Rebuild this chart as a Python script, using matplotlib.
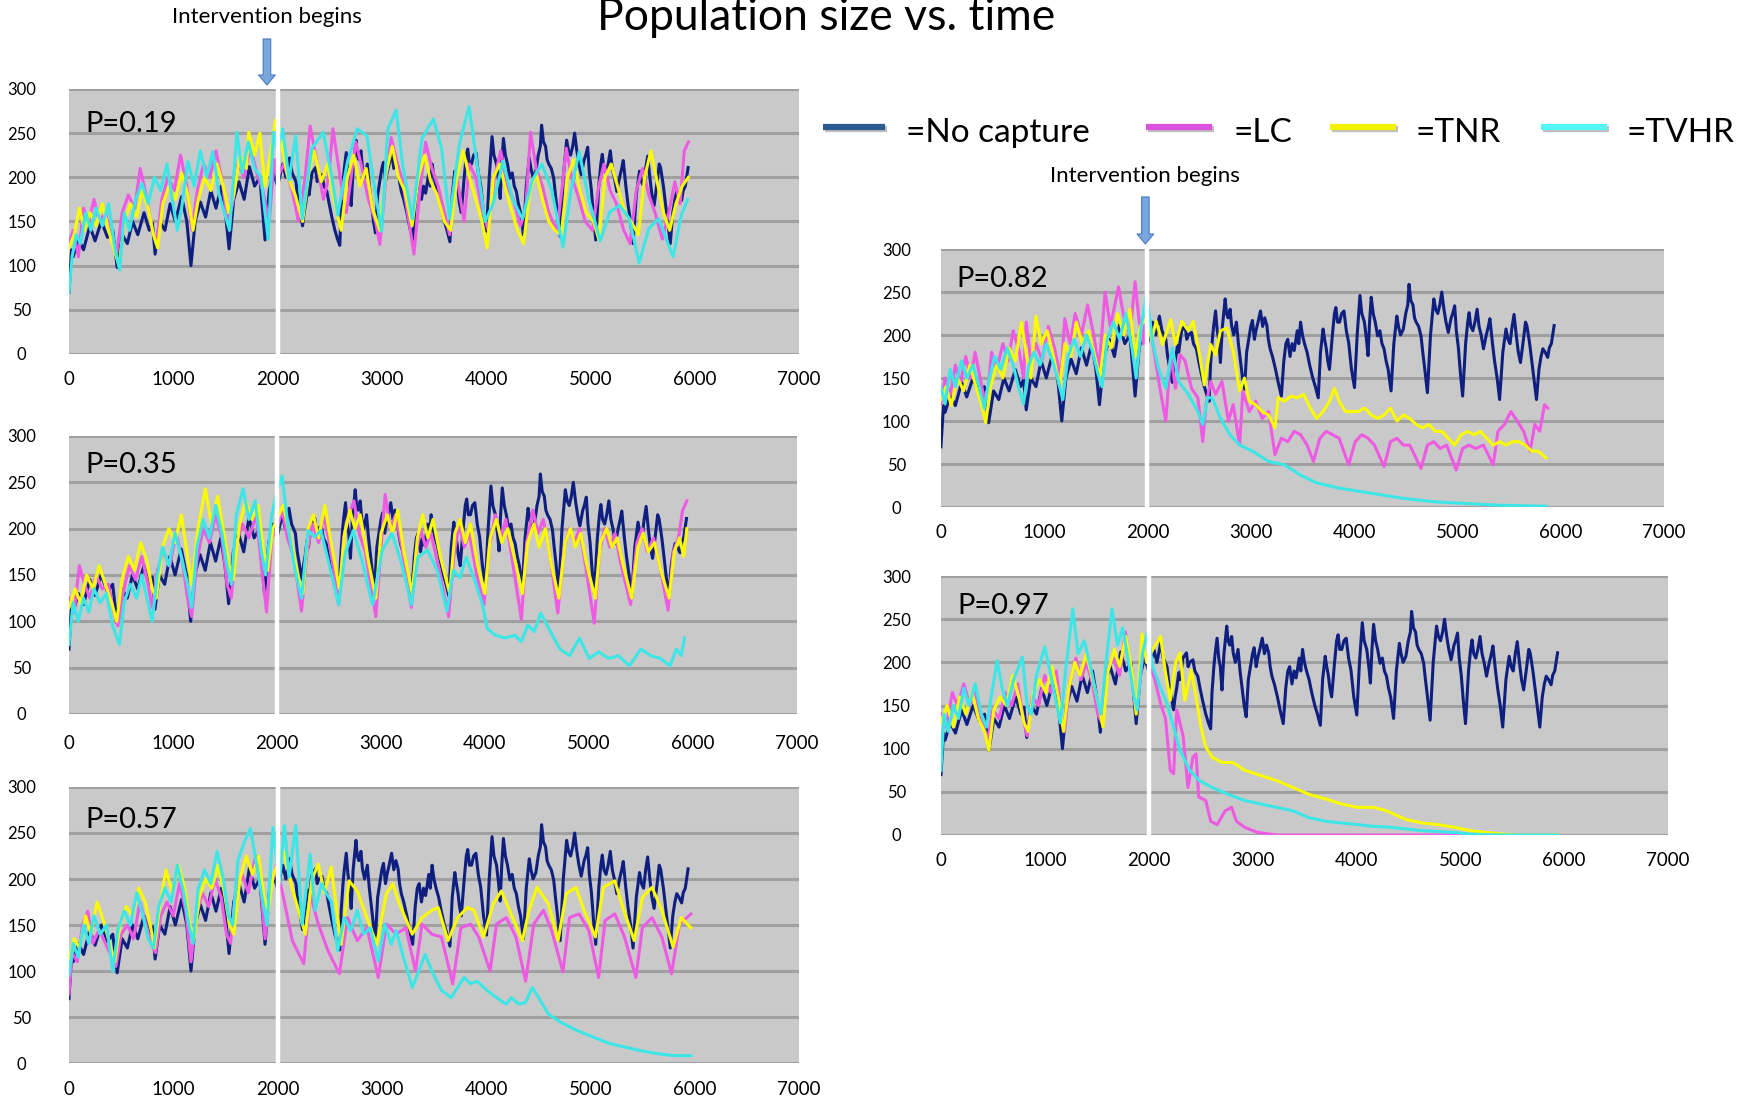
import matplotlib
matplotlib.use("Agg")
import matplotlib.pyplot as plt
from matplotlib.lines import Line2D
from matplotlib.patches import FancyArrowPatch
import matplotlib.patheffects as pe

plt.rcParams['font.family'] = ['Lato', 'DejaVu Sans']

# population (day, size) read per run; "no capture" is the same baseline run in every panel
nocap = [
    (0, 70), (25, 118), (40, 110), (90, 130), (140, 118), (200, 145), (250, 128), (310, 150),
    (370, 132), (420, 140), (462, 98), (510, 135), (560, 125), (610, 150), (660, 135), (720, 160),
    (770, 140), (800, 148), (826, 113), (870, 150), (920, 140), (970, 170), (1020, 150), (1080, 178),
    (1130, 150), (1170, 100), (1210, 150), (1260, 172), (1310, 155), (1360, 185), (1410, 165),
    (1460, 190), (1500, 160), (1535, 119), (1580, 175), (1630, 195), (1680, 175), (1730, 212),
    (1780, 190), (1830, 200), (1880, 129), (1920, 185), (1960, 205), (2000, 190), (2030, 205),
    (2050, 215), (2080, 200), (2115, 222), (2140, 205), (2177, 195), (2195, 175), (2210, 165),
    (2240, 145), (2255, 160), (2270, 170), (2290, 188), (2302, 180), (2330, 205), (2364, 211),
    (2380, 195), (2395, 200), (2426, 203), (2445, 190), (2473, 184), (2495, 170), (2519, 156),
    (2550, 140), (2575, 130), (2597, 123), (2610, 165), (2628, 195), (2640, 210), (2659, 228),
    (2675, 205), (2690, 195), (2706, 168), (2725, 210), (2752, 242), (2765, 225), (2780, 220),
    (2800, 230), (2814, 211), (2835, 200), (2861, 215), (2880, 190), (2900, 170), (2920, 150),
    (2939, 137), (2960, 180), (2985, 199), (3000, 210), (3016, 217), (3035, 195), (3050, 205),
    (3070, 215), (3094, 228), (3115, 210), (3135, 220), (3156, 211), (3170, 195), (3187, 184),
    (3210, 175), (3240, 160), (3265, 145), (3296, 129), (3320, 170), (3340, 190), (3358, 195),
    (3380, 175), (3400, 190), (3420, 182), (3450, 205), (3465, 190), (3482, 215), (3500, 200),
    (3520, 190), (3545, 180), (3570, 165), (3600, 150), (3625, 140), (3653, 127), (3675, 180),
    (3700, 207), (3715, 195), (3730, 185), (3745, 170), (3762, 160), (3790, 200), (3810, 225),
    (3824, 232), (3840, 215), (3860, 215), (3880, 225), (3902, 228), (3925, 205), (3948, 191),
    (3975, 160), (4004, 139), (4030, 200), (4057, 246), (4075, 225), (4100, 215), (4120, 195),
    (4135, 176), (4150, 215), (4166, 244), (4185, 225), (4205, 215), (4228, 199), (4250, 205),
    (4270, 190), (4290, 184), (4310, 170), (4330, 160), (4358, 135), (4385, 190), (4414, 222),
    (4430, 210), (4450, 200), (4477, 207), (4500, 225), (4520, 235), (4532, 259), (4550, 240),
    (4570, 235), (4585, 220), (4601, 215), (4625, 210), (4648, 199), (4665, 180), (4680, 165),
    (4710, 133), (4740, 200), (4772, 242), (4790, 230), (4810, 225), (4830, 235), (4849, 250),
    (4870, 230), (4890, 215), (4912, 203), (4940, 220), (4955, 225), (4974, 234), (4990, 205),
    (5010, 185), (5030, 155), (5051, 129), (5080, 190), (5100, 215), (5114, 226), (5130, 210),
    (5150, 205), (5170, 215), (5191, 230), (5210, 210), (5230, 200), (5253, 184), (5280, 200),
    (5300, 210), (5315, 219), (5340, 190), (5360, 170), (5385, 150), (5409, 125), (5440, 180),
    (5471, 207), (5490, 195), (5510, 190), (5530, 210), (5549, 224), (5570, 200), (5590, 180),
    (5611, 168), (5640, 195), (5660, 215), (5673, 211), (5700, 190), (5720, 170), (5745, 145),
    (5766, 125), (5790, 160), (5810, 175), (5828, 184), (5850, 180), (5875, 174), (5890, 185),
    (5910, 190), (5937, 211),
]

# P = 0.19
lc_019 = [
    (0, 125), (40, 140), (90, 110), (140, 165), (190, 150), (240, 175), (290, 150), (350, 160),
    (410, 130), (460, 115), (510, 160), (570, 180), (630, 165), (683, 210), (740, 180), (800, 140),
    (840, 125), (890, 175), (950, 200), (1010, 185), (1070, 225), (1130, 190), (1180, 140),
    (1230, 185), (1290, 215), (1350, 200), (1410, 230), (1470, 195), (1520, 150), (1570, 170),
    (1620, 215), (1680, 200), (1740, 235), (1800, 205), (1860, 185), (1920, 150), (1970, 220),
    (2000, 200), (2060, 215), (2140, 185), (2200, 150), (2260, 195), (2313, 258), (2380, 215),
    (2440, 175), (2490, 200), (2531, 255), (2600, 200), (2660, 160), (2700, 195), (2750, 240),
    (2810, 210), (2870, 175), (2940, 150), (2981, 124), (3040, 200), (3090, 245), (3150, 215),
    (3200, 195), (3260, 150), (3308, 113), (3370, 190), (3420, 240), (3480, 210), (3540, 190),
    (3600, 160), (3650, 135), (3720, 200), (3789, 150), (3840, 215), (3900, 200), (3960, 165),
    (4020, 140), (4080, 200), (4140, 230), (4200, 190), (4260, 175), (4330, 145), (4380, 165),
    (4426, 251), (4480, 210), (4540, 190), (4600, 160), (4680, 140), (4730, 190), (4768, 233),
    (4820, 200), (4880, 180), (4950, 150), (5020, 140), (5080, 190), (5130, 215), (5190, 185),
    (5250, 170), (5320, 140), (5380, 125), (5440, 185), (5500, 210), (5560, 180), (5620, 160),
    (5690, 130), (5760, 165), (5810, 195), (5860, 170), (5900, 230), (5940, 240),
]
tnr_019 = [
    (0, 120), (50, 135), (100, 165), (150, 140), (200, 160), (260, 145), (320, 170), (380, 140),
    (440, 115), (480, 100), (530, 150), (590, 170), (650, 155), (700, 185), (760, 165), (810, 135),
    (850, 120), (900, 170), (960, 190), (1020, 175), (1080, 205), (1140, 180), (1190, 140),
    (1240, 175), (1300, 200), (1360, 185), (1420, 215), (1480, 190), (1530, 160), (1580, 180),
    (1640, 225), (1700, 210), (1724, 251), (1780, 225), (1830, 250), (1880, 190), (1930, 225),
    (1980, 265), (2000, 265), (2050, 230), (2100, 200), (2170, 180), (2240, 150), (2300, 205),
    (2350, 230), (2420, 195), (2480, 215), (2540, 175), (2610, 140), (2670, 200), (2730, 225),
    (2790, 190), (2850, 210), (2910, 165), (2980, 140), (3040, 205), (3100, 235), (3160, 200),
    (3220, 185), (3290, 145), (3350, 200), (3410, 225), (3470, 195), (3530, 180), (3600, 150),
    (3660, 140), (3720, 200), (3780, 230), (3840, 200), (3900, 175), (3960, 150), (4010, 120),
    (4070, 200), (4130, 215), (4190, 185), (4250, 160), (4300, 140), (4360, 125), (4420, 185),
    (4480, 205), (4540, 175), (4600, 150), (4660, 140), (4720, 135), (4780, 200), (4840, 220),
    (4900, 185), (4960, 160), (5030, 150), (5080, 130), (5140, 200), (5200, 215), (5260, 190),
    (5330, 160), (5390, 150), (5460, 135), (5520, 200), (5580, 230), (5640, 195), (5700, 160),
    (5760, 140), (5820, 170), (5880, 190), (5940, 200),
]
tvhr_019 = [
    (0, 70), (30, 110), (70, 135), (110, 125), (160, 160), (210, 140), (260, 165), (320, 145),
    (380, 170), (440, 120), (486, 95), (530, 160), (580, 140), (640, 175), (700, 193), (760, 170),
    (820, 200), (880, 185), (940, 215), (990, 175), (1040, 140), (1080, 165), (1140, 218),
    (1200, 190), (1260, 230), (1320, 200), (1380, 229), (1440, 180), (1490, 160), (1540, 140),
    (1611, 251), (1660, 205), (1720, 240), (1780, 210), (1840, 200), (1880, 160), (1910, 130),
    (1960, 251), (2000, 230), (2049, 255), (2111, 197), (2174, 247), (2236, 153), (2329, 233),
    (2438, 251), (2515, 204), (2577, 157), (2671, 218), (2764, 255), (2857, 247), (2919, 197),
    (2997, 139), (3059, 255), (3137, 276), (3199, 215), (3292, 153), (3385, 244), (3494, 266),
    (3572, 233), (3649, 153), (3743, 237), (3836, 280), (3913, 215), (3991, 150), (4069, 171),
    (4162, 218), (4255, 175), (4348, 153), (4442, 197), (4535, 215), (4628, 186), (4737, 121),
    (4815, 186), (4892, 229), (4985, 175), (5094, 128), (5187, 161), (5281, 168), (5374, 153),
    (5467, 103), (5560, 142), (5653, 153), (5793, 110), (5871, 157), (5933, 175),
]

# P = 0.35
lc_035 = [
    (0, 125), (50, 110), (100, 160), (150, 140), (200, 125), (260, 150), (320, 135), (380, 140),
    (430, 110), (470, 95), (520, 130), (580, 160), (640, 145), (700, 170), (760, 140), (800, 115),
    (850, 155), (910, 175), (970, 160), (1030, 195), (1090, 165), (1140, 125), (1180, 105),
    (1230, 165), (1290, 200), (1350, 185), (1410, 215), (1470, 190), (1520, 140), (1560, 125),
    (1610, 185), (1670, 205), (1730, 190), (1800, 215), (1860, 150), (1900, 110), (1950, 190),
    (2000, 200), (2049, 220), (2100, 190), (2160, 170), (2236, 111), (2290, 175), (2340, 205),
    (2400, 185), (2450, 215), (2520, 175), (2593, 118), (2640, 190), (2690, 215), (2740, 230),
    (2790, 195), (2850, 175), (2950, 105), (3000, 180), (3040, 237), (3090, 200), (3140, 215),
    (3200, 180), (3292, 115), (3340, 175), (3380, 200), (3430, 180), (3480, 195), (3550, 160),
    (3650, 105), (3700, 170), (3750, 205), (3800, 180), (3850, 195), (3920, 150), (3990, 118),
    (4040, 180), (4100, 215), (4150, 190), (4200, 210), (4270, 160), (4350, 102), (4400, 185),
    (4460, 220), (4510, 195), (4560, 210), (4620, 175), (4700, 109), (4760, 180), (4810, 200),
    (4860, 185), (4910, 200), (4960, 165), (5050, 98), (5100, 175), (5150, 200), (5200, 180),
    (5250, 195), (5300, 165), (5400, 118), (5460, 185), (5510, 200), (5560, 175), (5620, 190),
    (5680, 160), (5760, 112), (5810, 175), (5860, 190), (5900, 220), (5940, 230),
]
tnr_035 = [
    (0, 115), (60, 135), (110, 120), (170, 150), (230, 135), (290, 160), (350, 140), (410, 120),
    (460, 100), (510, 145), (570, 170), (630, 155), (690, 185), (750, 165), (800, 135), (840, 125),
    (900, 180), (960, 200), (1020, 185), (1080, 215), (1140, 170), (1180, 140), (1240, 200),
    (1311, 243), (1370, 205), (1430, 235), (1490, 195), (1540, 160), (1580, 145), (1640, 205),
    (1700, 230), (1760, 210), (1820, 225), (1870, 175), (1910, 155), (1960, 200), (2000, 210),
    (2060, 225), (2120, 195), (2200, 150), (2250, 130), (2300, 200), (2350, 215), (2400, 190),
    (2460, 225), (2520, 185), (2600, 135), (2650, 195), (2700, 220), (2750, 200), (2800, 215),
    (2870, 170), (2950, 125), (3000, 195), (3060, 215), (3110, 195), (3160, 220), (3220, 175),
    (3300, 130), (3350, 190), (3400, 215), (3450, 190), (3500, 210), (3570, 170), (3660, 130),
    (3710, 195), (3760, 210), (3810, 185), (3860, 205), (3930, 160), (4000, 130), (4050, 190),
    (4110, 210), (4160, 185), (4220, 200), (4290, 165), (4360, 130), (4410, 185), (4470, 205),
    (4520, 180), (4580, 200), (4640, 160), (4710, 125), (4770, 185), (4820, 200), (4870, 180),
    (4920, 195), (4980, 160), (5060, 125), (5110, 185), (5170, 200), (5220, 180), (5270, 190),
    (5330, 160), (5410, 125), (5470, 180), (5520, 195), (5570, 175), (5630, 185), (5690, 155),
    (5770, 125), (5820, 175), (5870, 190), (5910, 170), (5940, 200),
]
tvhr_035 = [
    (0, 75), (40, 120), (90, 100), (140, 125), (190, 110), (240, 135), (300, 120), (360, 130),
    (420, 95), (486, 75), (530, 120), (590, 140), (650, 125), (700, 150), (760, 120), (800, 100),
    (850, 150), (900, 180), (960, 160), (1020, 195), (1080, 170), (1140, 140), (1180, 115),
    (1230, 180), (1290, 210), (1350, 190), (1410, 225), (1470, 195), (1520, 160), (1560, 140),
    (1610, 215), (1674, 243), (1730, 210), (1790, 230), (1850, 175), (1890, 150), (1950, 215),
    (2000, 240), (2049, 257), (2111, 198), (2174, 155), (2236, 125), (2298, 198), (2360, 191),
    (2422, 198), (2500, 162), (2593, 118), (2655, 173), (2733, 198), (2826, 162), (2919, 118),
    (3012, 177), (3106, 195), (3199, 162), (3292, 118), (3354, 169), (3447, 177), (3541, 155),
    (3634, 111), (3696, 155), (3758, 147), (3820, 169), (3913, 140), (3976, 118), (4022, 92),
    (4100, 85), (4193, 82), (4286, 85), (4348, 78), (4411, 96), (4473, 89), (4535, 109),
    (4628, 89), (4721, 70), (4814, 63), (4908, 82), (5001, 60), (5094, 67), (5188, 60),
    (5281, 63), (5389, 52), (5498, 70), (5591, 63), (5685, 60), (5778, 52), (5840, 70),
    (5887, 63), (5917, 82),
]

# P = 0.57
lc_057 = [
    (0, 75), (30, 120), (80, 110), (130, 150), (180, 165), (230, 130), (290, 145), (350, 130),
    (410, 115), (450, 105), (500, 140), (560, 150), (620, 135), (680, 175), (740, 150), (790, 130),
    (830, 120), (880, 160), (940, 175), (1000, 160), (1060, 195), (1120, 165), (1170, 110),
    (1220, 160), (1280, 185), (1340, 170), (1400, 200), (1460, 180), (1510, 140), (1550, 130),
    (1600, 190), (1660, 205), (1720, 185), (1790, 225), (1840, 190), (1880, 135), (1930, 190),
    (1990, 215), (2049, 184), (2142, 133), (2251, 108), (2313, 184), (2391, 151), (2484, 122),
    (2593, 97), (2671, 158), (2764, 133), (2857, 147), (2966, 93), (3044, 151), (3137, 140),
    (3230, 147), (3323, 100), (3385, 151), (3479, 140), (3572, 137), (3680, 86), (3758, 147),
    (3851, 151), (3929, 137), (4038, 100), (4100, 151), (4193, 158), (4286, 137), (4379, 89),
    (4457, 151), (4550, 166), (4628, 144), (4737, 99), (4799, 158), (4892, 162), (4985, 144),
    (5079, 93), (5141, 155), (5234, 162), (5327, 137), (5436, 93), (5498, 147), (5591, 158),
    (5685, 137), (5778, 97), (5855, 151), (5964, 162),
]
tnr_057 = [
    (0, 110), (50, 135), (100, 125), (160, 160), (210, 140), (270, 175), (330, 155), (390, 130),
    (440, 110), (490, 150), (550, 170), (610, 160), (670, 190), (730, 175), (780, 150), (820, 125),
    (870, 170), (930, 210), (990, 185), (1050, 215), (1110, 190), (1160, 150), (1200, 135),
    (1250, 180), (1310, 200), (1370, 190), (1430, 215), (1490, 185), (1540, 150), (1580, 140),
    (1640, 200), (1700, 225), (1760, 205), (1820, 225), (1870, 180), (1910, 165), (1960, 205),
    (2000, 215), (2060, 230), (2140, 190), (2267, 140), (2330, 200), (2391, 216), (2450, 185),
    (2515, 213), (2609, 129), (2686, 198), (2764, 187), (2857, 158), (2950, 129), (3044, 184),
    (3106, 195), (3168, 173), (3292, 140), (3385, 158), (3479, 166), (3541, 169), (3634, 133),
    (3727, 158), (3820, 169), (3882, 166), (3976, 137), (4069, 173), (4146, 187), (4224, 166),
    (4348, 133), (4411, 166), (4488, 191), (4597, 173), (4690, 133), (4768, 184), (4861, 191),
    (4939, 166), (5048, 137), (5125, 191), (5234, 198), (5312, 169), (5420, 133), (5498, 180),
    (5591, 191), (5685, 166), (5793, 126), (5871, 158), (5964, 147),
]
tvhr_057 = [
    (0, 95), (40, 130), (90, 115), (140, 150), (190, 130), (240, 160), (300, 140), (360, 150),
    (420, 100), (470, 145), (530, 165), (590, 150), (650, 185), (710, 160), (760, 135), (810, 125),
    (860, 170), (920, 190), (980, 175), (1040, 215), (1100, 185), (1150, 150), (1190, 130),
    (1240, 190), (1300, 210), (1360, 195), (1420, 230), (1480, 200), (1530, 160), (1570, 150),
    (1620, 220), (1680, 240), (1740, 255), (1800, 215), (1860, 175), (1900, 150), (1956, 256),
    (2018, 195), (2065, 258), (2111, 202), (2174, 258), (2236, 151), (2313, 227), (2360, 166),
    (2422, 195), (2469, 184), (2515, 176), (2577, 122), (2640, 158), (2702, 144), (2764, 166),
    (2826, 140), (2888, 147), (2966, 111), (3028, 151), (3090, 129), (3137, 144), (3199, 118),
    (3292, 82), (3354, 100), (3416, 118), (3479, 100), (3572, 79), (3665, 71), (3789, 93),
    (3851, 86), (3913, 89), (4007, 79), (4100, 71), (4193, 64), (4240, 71), (4317, 64),
    (4379, 66), (4442, 82), (4504, 71), (4597, 53), (4721, 44), (4877, 35), (5032, 28),
    (5188, 21), (5343, 17), (5498, 13), (5653, 10), (5809, 8), (5964, 8),
]

# P = 0.82
lc_082 = [
    (0, 120), (40, 150), (90, 130), (140, 165), (190, 145), (240, 175), (290, 150), (331, 180),
    (380, 150), (420, 125), (460, 140), (490, 180), (540, 160), (600, 190), (650, 170), (700, 205),
    (760, 180), (800, 150), (826, 215), (870, 170), (920, 190), (980, 170), (1040, 210),
    (1100, 185), (1160, 150), (1199, 219), (1250, 190), (1300, 225), (1360, 200), (1420, 235),
    (1480, 200), (1530, 160), (1590, 250), (1640, 210), (1720, 256), (1780, 215), (1830, 200),
    (1880, 262), (1920, 215), (1960, 190), (1991, 247), (2053, 189), (2115, 142), (2177, 100),
    (2224, 177), (2271, 138), (2317, 177), (2364, 170), (2426, 138), (2488, 127), (2535, 76),
    (2566, 119), (2612, 146), (2659, 131), (2721, 146), (2783, 100), (2830, 119), (2892, 72),
    (2923, 135), (2985, 111), (3047, 123), (3110, 103), (3172, 111), (3234, 61), (3296, 80),
    (3358, 76), (3420, 88), (3482, 84), (3545, 72), (3607, 53), (3669, 80), (3731, 88),
    (3793, 84), (3855, 80), (3948, 49), (4011, 76), (4073, 84), (4135, 80), (4197, 72),
    (4290, 47), (4352, 76), (4414, 80), (4477, 72), (4539, 72), (4648, 45), (4710, 72),
    (4772, 76), (4834, 68), (4896, 72), (4989, 43), (5051, 68), (5114, 72), (5176, 68),
    (5253, 72), (5347, 49), (5393, 88), (5455, 96), (5518, 111), (5580, 100), (5642, 88),
    (5704, 65), (5750, 96), (5797, 88), (5844, 119), (5875, 115),
]
tnr_082 = [
    (0, 125), (50, 140), (100, 118), (160, 150), (220, 135), (280, 165), (340, 140), (400, 115),
    (434, 98), (480, 140), (540, 165), (600, 150), (660, 185), (720, 170), (780, 215), (830, 175),
    (870, 150), (920, 222), (970, 190), (1030, 205), (1090, 175), (1150, 140), (1200, 190),
    (1260, 175), (1310, 215), (1370, 190), (1430, 205), (1490, 175), (1540, 150), (1590, 200),
    (1650, 185), (1710, 225), (1770, 200), (1830, 230), (1880, 175), (1930, 210), (1991, 220),
    (2040, 195), (2084, 216), (2146, 189), (2224, 218), (2271, 189), (2333, 216), (2395, 205),
    (2442, 216), (2504, 177), (2550, 142), (2612, 189), (2659, 177), (2706, 205), (2768, 208),
    (2830, 181), (2892, 135), (2939, 150), (2985, 123), (3047, 119), (3110, 111), (3172, 107),
    (3234, 92), (3265, 127), (3327, 123), (3389, 129), (3451, 127), (3513, 131), (3576, 115),
    (3638, 103), (3700, 111), (3762, 123), (3809, 138), (3855, 123), (3917, 111), (3979, 111),
    (4042, 111), (4104, 115), (4166, 107), (4228, 103), (4290, 107), (4352, 115), (4414, 100),
    (4477, 107), (4539, 103), (4601, 96), (4663, 92), (4725, 96), (4787, 88), (4849, 88),
    (4912, 80), (4974, 72), (5036, 84), (5098, 88), (5160, 84), (5222, 88), (5284, 80),
    (5347, 72), (5409, 76), (5471, 72), (5533, 76), (5595, 76), (5657, 72), (5719, 65),
    (5781, 65), (5859, 57),
]
tvhr_082 = [
    (0, 140), (40, 120), (90, 160), (140, 140), (200, 170), (250, 150), (310, 165), (370, 140),
    (420, 115), (470, 150), (520, 175), (580, 160), (640, 185), (700, 165), (750, 140), (800, 120),
    (850, 165), (900, 180), (960, 165), (1020, 190), (1080, 170), (1130, 150), (1180, 125),
    (1230, 175), (1290, 195), (1350, 175), (1410, 200), (1470, 180), (1520, 155), (1560, 140),
    (1610, 195), (1670, 215), (1730, 195), (1790, 225), (1850, 185), (1890, 150), (1940, 210),
    (1991, 247), (2053, 189), (2115, 158), (2177, 138), (2240, 185), (2302, 146), (2395, 131),
    (2488, 111), (2535, 96), (2581, 127), (2628, 127), (2706, 103), (2799, 84), (2892, 72),
    (3016, 65), (3172, 53), (3327, 49), (3482, 37), (3638, 28), (3855, 22), (4166, 16),
    (4477, 10), (4787, 6), (5098, 4), (5409, 2), (5859, 1),
]

# P = 0.97
lc_097 = [
    (0, 140), (50, 125), (110, 165), (160, 150), (220, 175), (280, 150), (330, 165), (400, 130),
    (450, 110), (500, 145), (560, 135), (620, 165), (680, 150), (740, 175), (800, 130), (830, 115),
    (880, 160), (940, 150), (1000, 185), (1060, 165), (1110, 190), (1160, 140), (1190, 120),
    (1240, 175), (1300, 205), (1350, 180), (1400, 200), (1460, 175), (1510, 140), (1550, 130),
    (1600, 190), (1660, 205), (1720, 185), (1776, 235), (1820, 200), (1870, 150), (1900, 160),
    (1950, 215), (2000, 200), (2060, 180), (2115, 152), (2162, 135), (2208, 75), (2240, 71),
    (2271, 145), (2333, 114), (2379, 55), (2426, 90), (2457, 94), (2482, 44), (2550, 40),
    (2597, 16), (2659, 12), (2737, 28), (2799, 32), (2845, 16), (2923, 9), (3047, 3), (3234, 0),
    (5900, 0),
]
tnr_097 = [
    (0, 130), (60, 150), (120, 125), (180, 160), (240, 140), (300, 165), (360, 135), (420, 120),
    (462, 98), (510, 145), (570, 160), (630, 150), (690, 185), (750, 160), (800, 130), (840, 120),
    (890, 165), (950, 180), (1010, 165), (1070, 195), (1130, 160), (1180, 120), (1230, 170),
    (1290, 200), (1340, 185), (1400, 210), (1460, 180), (1520, 150), (1560, 125), (1610, 190),
    (1670, 215), (1720, 195), (1780, 230), (1840, 190), (1880, 140), (1920, 200), (1936, 233),
    (1980, 200), (2040, 215), (2115, 230), (2160, 190), (2208, 156), (2260, 200), (2302, 211),
    (2348, 156), (2410, 191), (2457, 160), (2504, 125), (2550, 102), (2612, 90), (2706, 84),
    (2814, 84), (2923, 75), (3078, 69), (3234, 63), (3389, 55), (3545, 47), (3700, 42),
    (3855, 36), (4011, 32), (4166, 32), (4290, 28), (4477, 18), (4632, 14), (4787, 12),
    (4943, 9), (5098, 5), (5253, 3), (5409, 1), (5564, 0), (5937, 0),
]
tvhr_097 = [
    (0, 75), (30, 140), (70, 120), (120, 150), (170, 135), (220, 170), (270, 150), (330, 175),
    (390, 140), (440, 125), (490, 165), (542, 202), (590, 170), (640, 150), (700, 180), (784, 206),
    (830, 150), (870, 140), (920, 185), (1000, 218), (1050, 190), (1100, 160), (1150, 130),
    (1200, 190), (1270, 262), (1320, 210), (1380, 225), (1440, 195), (1500, 160), (1540, 140),
    (1590, 200), (1647, 262), (1700, 220), (1750, 240), (1800, 205), (1860, 160), (1890, 145),
    (1940, 210), (1990, 235), (2040, 195), (2100, 175), (2177, 152), (2240, 125), (2302, 98),
    (2395, 75), (2488, 63), (2612, 55), (2768, 47), (2923, 40), (3078, 36), (3234, 32),
    (3389, 28), (3545, 20), (3700, 16), (3855, 14), (4011, 12), (4166, 10), (4321, 9),
    (4477, 7), (4632, 5), (4787, 4), (4943, 3), (5098, 1), (5409, 0), (5937, 0),
]

NAVY = '#0E1F80'
MAGENTA = '#EE5AE4'
YELLOW = '#FAFA00'
CYAN = '#3CE6E6'

INTERVENTION_DAY = 2000

fig = plt.figure(figsize=(17.46, 11.01), dpi=100)


def draw_panel(rect, label, lc, tnr, tvhr, label_y, ypad, xpad):
    ax = fig.add_axes(rect)
    ax.set_facecolor('#C9C9C9')
    for data, color in [(nocap, NAVY), (lc, MAGENTA), (tnr, YELLOW), (tvhr, CYAN)]:
        t, v = zip(*data)
        ax.plot(t, v, color=color, lw=2.2, solid_joinstyle='round')
    ax.axvline(INTERVENTION_DAY, color='white', lw=3.2)
    ax.set_xlim(0, 7000)
    ax.set_ylim(0, 300)
    ax.set_xticks(range(0, 7001, 1000))
    ax.set_yticks(range(0, 301, 50))
    ax.grid(axis='y', color='#A0A0A0', lw=2.2)
    ax.set_axisbelow(True)
    for s in ax.spines.values():
        s.set_visible(False)
    ax.tick_params(axis='x', length=0, labelsize=13.5, pad=xpad)
    ax.tick_params(axis='y', length=0, labelsize=12, pad=ypad)
    for lbl in ax.get_yticklabels():
        lbl.set_horizontalalignment('center')
    ax.text(0.022, label_y, label, transform=ax.transAxes, fontsize=21,
            va='center', ha='left', color='black')
    return ax


draw_panel([0.0395, 0.6785, 0.4181, 0.2407], 'P=0.19', lc_019, tnr_019, tvhr_019, 0.868, 34, 12)
draw_panel([0.0395, 0.3515, 0.4170, 0.2525], 'P=0.35', lc_035, tnr_035, tvhr_035, 0.896, 34, 15)
draw_panel([0.0395, 0.0345, 0.4181, 0.2507], 'P=0.57', lc_057, tnr_057, tvhr_057, 0.880, 34, 13)
draw_panel([0.5389, 0.5395, 0.4141, 0.2343], 'P=0.82', lc_082, tnr_082, tvhr_082, 0.882, 32, 12)
draw_panel([0.5389, 0.2416, 0.4164, 0.2352], 'P=0.97', lc_097, tnr_097, tvhr_097, 0.884, 32, 12)

fig.text(0.473, 0.9730, 'Population size vs. time', ha='center', va='baseline', fontsize=32)

# "Intervention begins" notes with their arrows
for tx, ty, ay0, ay1 in [(0.1529, 0.9846, 0.9646, 0.9228), (0.6560, 0.8401, 0.8211, 0.7784)]:
    fig.text(tx, ty, 'Intervention begins', ha='center', va='center', fontsize=16)
    arr = FancyArrowPatch((tx, ay0), (tx, ay1), transform=fig.transFigure,
                          arrowstyle='simple,head_length=0.6,head_width=1.0,tail_width=0.45',
                          mutation_scale=12, facecolor='#79A7DE', edgecolor='#4C7CC0',
                          lw=0.8, shrinkA=0, shrinkB=0)
    fig.add_artist(arr)

# legend row
legend_items = [
    ('=No capture', '#2B5A8E', 0.4714, 0.5069, 0.5187),
    ('=LC', '#DD52DD', 0.6564, 0.6942, 0.7062),
    ('=TNR', '#F2F200', 0.7617, 0.7995, 0.8108),
    ('=TVHR', '#55F5F5', 0.8826, 0.9204, 0.9317),
]
for text, color, x0, x1, xt in legend_items:
    ln = Line2D([x0, x1], [0.8849, 0.8849], transform=fig.transFigure, color=color,
                lw=4.5, solid_capstyle='butt',
                path_effects=[pe.SimpleLineShadow(offset=(1.5, -1.5), shadow_color='gray', alpha=0.5),
                              pe.Normal()])
    fig.add_artist(ln)
    fig.text(xt, 0.8710, text, ha='left', va='baseline', fontsize=24)

fig.savefig('out.png', dpi=100)
